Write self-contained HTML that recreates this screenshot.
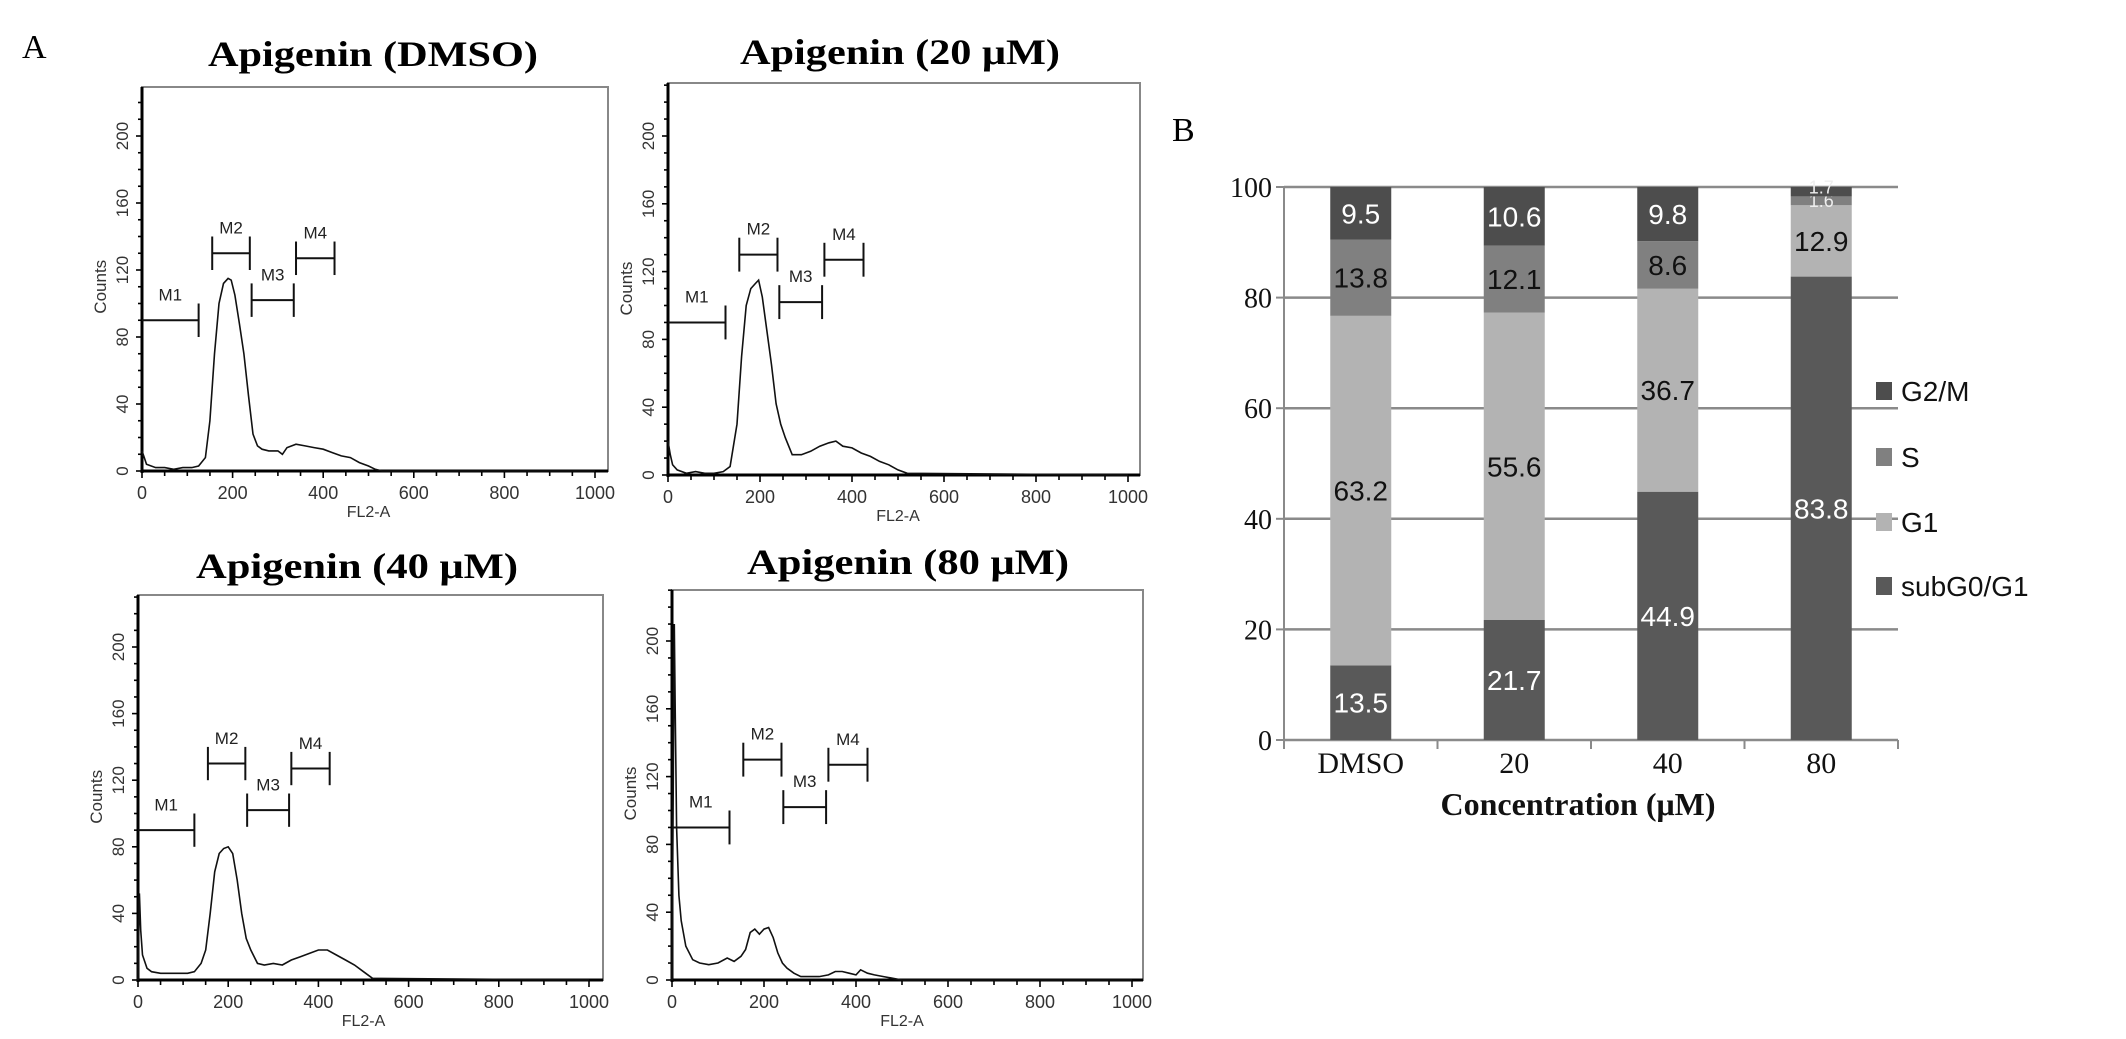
<!DOCTYPE html>
<html><head><meta charset="utf-8"><style>
html,body{margin:0;padding:0;background:#fff;}
svg{display:block;}
</style></head><body>
<svg id="fig" width="2126" height="1039" viewBox="0 0 2126 1039" xmlns="http://www.w3.org/2000/svg">
<rect width="2126" height="1039" fill="#fff"/>
<text x="22" y="58" font-family="Liberation Serif, serif" font-size="34">A</text>
<text x="1172" y="141" font-family="Liberation Serif, serif" font-size="34">B</text>
<g id="flow"></g>
<g id="bars"></g>
</svg>
<script>
// ---- Flow histogram data (FL2-A channel vs counts) ----
const dmsoX = [0,5,10,30,50,70,90,110,125,140,150,160,170,180,190,197,205,215,225,235,245,255,265,280,300,310,320,340,360,380,400,420,440,460,480,500,515,530,1000];
const dmsoY = [12,8,4,2,2,1,2,2,3,8,30,70,100,112,115,114,105,88,70,45,22,15,13,12,12,10,14,16,15,14,13,11,9,8,5,3,1,0,0];
const m20X = [0,5,10,20,40,60,80,100,120,135,150,160,170,180,190,197,205,215,225,235,245,255,270,290,310,330,350,365,380,400,420,440,460,480,500,520,1000];
const m20Y = [20,12,6,3,1,2,1,1,2,5,30,70,100,110,113,115,105,85,65,42,30,22,12,12,14,17,19,20,17,16,13,11,8,6,3,1,0];
const m40X = [0,3,6,10,20,30,50,70,90,110,125,140,150,160,170,180,190,200,210,220,230,240,250,265,280,300,320,340,360,380,400,420,440,460,480,500,520,1000];
const m40Y = [0,52,30,15,7,5,4,4,4,4,5,10,18,40,65,76,79,80,76,60,40,25,18,10,9,10,9,12,14,16,18,18,15,12,9,5,1,0];
const m80X = [0,5,7,10,15,20,30,45,60,80,100,120,135,150,160,170,180,190,200,210,220,230,240,250,265,280,300,320,340,355,370,385,400,410,425,440,460,480,500,1000];
const m80Y = [0,210,160,90,50,35,20,12,10,9,10,13,11,14,18,28,30,27,30,31,25,16,10,7,4,2,2,2,3,5,5,4,3,6,4,3,2,1,0,0];
const flowYTicks = [0,40,80,120,160,200];
const flowXTicks = [0,200,400,600,800,1000];
const gateNames = ["M1","M2","M3","M4"];
const gateStart = [0,155,242,340];
const gateEnd = [125,238,335,425];
const gateLevel = [90,130,102,127];

const NS = "http://www.w3.org/2000/svg";
function mk(tag, attrs, parent, text){
  const e = document.createElementNS(NS, tag);
  for (const k in attrs) e.setAttribute(k, attrs[k]);
  if (text !== undefined) e.textContent = text;
  parent.appendChild(e);
  return e;
}

const panels = [
  {key:"dmso", title:"Apigenin (DMSO)", tx:373, ty:66, tw:330, x0:142, x1:595, right:608, top:87, y0:471, y200:136, xs:dmsoX, ys:dmsoY},
  {key:"20um", title:"Apigenin (20 μM)", tx:900, ty:64, tw:320, x0:668, x1:1128, right:1140, top:83, y0:475, y200:136, xs:m20X, ys:m20Y},
  {key:"40um", title:"Apigenin (40 μM)", tx:357, ty:578, tw:322, x0:138, x1:589, right:603, top:595, y0:980, y200:647, xs:m40X, ys:m40Y},
  {key:"80um", title:"Apigenin (80 μM)", tx:908, ty:574, tw:322, x0:672, x1:1132, right:1143, top:590, y0:980, y200:641, xs:m80X, ys:m80Y}
];

const flow = document.getElementById("flow");
panels.forEach(p => {
  const g = mk("g", {}, flow);
  
  
  const sx = v => p.x0 + (p.x1 - p.x0) * v / 1000;
  const sy = v => p.y0 - (p.y0 - p.y200) * v / 200;
  const t = mk("text", {x:p.tx, y:p.ty, "text-anchor":"middle", "font-family":"Liberation Serif, serif", "font-weight":"bold", "font-size":"36", textLength:p.tw, lengthAdjust:"spacingAndGlyphs"}, g, p.title);
  
  
  const fr = mk("rect", {x:p.x0, y:p.top, width:p.right - p.x0, height:p.y0 - p.top, fill:"none", stroke:"#888", "stroke-width":"2"}, g);
  
  
  const ya = mk("line", {x1:p.x0, y1:p.top, x2:p.x0, y2:p.y0 + 2, stroke:"#000", "stroke-width":"3"}, g);
  
  
  const xa = mk("line", {x1:p.x0, y1:p.y0, x2:p.right, y2:p.y0, stroke:"#000", "stroke-width":"3"}, g);
  
  
  for (let v = 0; v <= 230; v += 10) {
    const yy = sy(v);
    if (yy < p.top) break;
    mk("line", {x1:p.x0 - (v % 40 === 0 ? 6 : 4), y1:yy, x2:p.x0, y2:yy, stroke:"#000", "stroke-width":"1.6"}, g);
  }
  for (let v = 0; v <= 1000; v += 50) {
    mk("line", {x1:sx(v), y1:p.y0, x2:sx(v), y2:p.y0 + (v % 200 === 0 ? 7 : 5), stroke:"#000", "stroke-width":"1.6"}, g);
  }
  flowYTicks.forEach(v => {
    const lx = p.x0 - 14, ly = sy(v);
    const tl = mk("text", {x:lx, y:ly, transform:`rotate(-90 ${lx} ${ly})`, "text-anchor":"middle", "font-family":"Liberation Sans, sans-serif", "font-size":"17", fill:"#333"}, g, String(v));
    
    
  });
  flowXTicks.forEach(v => {
    const tl = mk("text", {x:sx(v), y:p.y0 + 28, "text-anchor":"middle", "font-family":"Liberation Sans, sans-serif", "font-size":"18", fill:"#333"}, g, String(v));
    
    
  });
  const cx = p.x0 - 36, cy = sy(110);
  const cl = mk("text", {x:cx, y:cy, transform:`rotate(-90 ${cx} ${cy})`, "text-anchor":"middle", "font-family":"Liberation Sans, sans-serif", "font-size":"17", fill:"#333"}, g, "Counts");
  
  
  const xl = mk("text", {x:sx(500), y:p.y0 + 46, "text-anchor":"middle", "font-family":"Liberation Sans, sans-serif", "font-size":"16", fill:"#333"}, g, "FL2-A");
  
  
  const d = p.xs.map((v, i) => (i ? "L" : "M") + sx(v).toFixed(1) + " " + sy(p.ys[i]).toFixed(1)).join(" ");
  const ln = mk("path", {d:d, fill:"none", stroke:"#111", "stroke-width":"1.6"}, g);
  
  
  gateNames.forEach((n, i) => {
    const gg = mk("g", {}, g);
    
    
    const a = sx(gateStart[i]), b = sx(gateEnd[i]), yy = sy(gateLevel[i]);
    const h = (p.y0 - p.y200) * 10 / 200;
    mk("line", {x1:a, y1:yy, x2:b, y2:yy, stroke:"#111", "stroke-width":"2"}, gg);
    if (i > 0) mk("line", {x1:a, y1:yy - h, x2:a, y2:yy + h, stroke:"#111", "stroke-width":"2"}, gg);
    mk("line", {x1:b, y1:yy - h, x2:b, y2:yy + h, stroke:"#111", "stroke-width":"2"}, gg);
    mk("text", {x:(a + b) / 2, y:yy - h - 3, "text-anchor":"middle", "font-family":"Liberation Sans, sans-serif", "font-size":"17", fill:"#222"}, gg, n);
  });
});

// ---- Stacked bar chart data ----
const categories = ["DMSO","20","40","80"];
const subG0 = [13.5,21.7,44.9,83.8];
const g1 = [63.2,55.6,36.7,12.9];
const sPhase = [13.8,12.1,8.6,1.6];
const g2m = [9.5,10.6,9.8,1.7];
const yTicks = [0,20,40,60,80,100];
const seriesNames = ["subG0/G1","G1","S","G2/M"];

const B = {left:1284, right:1898, top:187, bottom:740, bw:61};
const by = v => B.bottom - (B.bottom - B.top) * v / 100;
const bx = i => B.left + (B.right - B.left) * (i + 0.5) / categories.length;
const bars = document.getElementById("bars");
const series = [subG0, g1, sPhase, g2m];
const colors = ["#595959","#b3b3b3","#808080","#4d4d4d"];
const labelColors = ["#fff","#111","#111","#fff"];

yTicks.forEach(v => {
  const gl = mk("line", {x1:B.left, y1:by(v), x2:B.right, y2:by(v), stroke:"#8a8a8a", "stroke-width":"2.5"}, bars);
  
  
  mk("line", {x1:B.left - 8, y1:by(v), x2:B.left, y2:by(v), stroke:"#8a8a8a", "stroke-width":"2"}, bars);
  const tl = mk("text", {x:B.left - 12, y:by(v) + 10, "text-anchor":"end", "font-family":"Liberation Serif, serif", "font-size":"28", fill:"#111"}, bars, String(v));
  
  
});
const yax = mk("line", {x1:B.left, y1:B.top, x2:B.left, y2:B.bottom, stroke:"#8a8a8a", "stroke-width":"2"}, bars);


for (let i = 0; i <= categories.length; i++) {
  const x = B.left + (B.right - B.left) * i / categories.length;
  mk("line", {x1:x, y1:B.bottom, x2:x, y2:B.bottom + 9, stroke:"#8a8a8a", "stroke-width":"2"}, bars);
}
categories.forEach((c, i) => {
  let base = 0;
  series.forEach((arr, k) => {
    const v = arr[i];
    const r = mk("rect", {x:bx(i) - B.bw / 2, y:by(base + v), width:B.bw, height:by(base) - by(base + v), fill:colors[k]}, bars);
    
    
    const small = v < 5;
    const lt = mk("text", {x:bx(i), y:by(base + v / 2) + (small ? (k === 3 ? 2 : 6) : 10), "text-anchor":"middle", "font-family":"Liberation Sans, sans-serif", "font-size":small ? "18" : "28", fill:small ? "#eee" : labelColors[k]}, bars, v.toFixed(1));
    
    
    base += v;
  });
  const xl = mk("text", {x:bx(i), y:773, "text-anchor":"middle", "font-family":"Liberation Serif, serif", "font-size":"30", fill:"#111"}, bars, c);
  
  
});
const xt = mk("text", {x:1578, y:815, "text-anchor":"middle", "font-family":"Liberation Serif, serif", "font-weight":"bold", "font-size":"32", fill:"#111"}, bars, "Concentration (μM)");



const legendY = [391,457,522,586];
[3,2,1,0].forEach((k, j) => {
  const lg = mk("g", {}, bars);
  
  
  mk("rect", {x:1876, y:legendY[j] - 9, width:16, height:18, fill:colors[k]}, lg);
  mk("text", {x:1901, y:legendY[j] + 10, "font-family":"Liberation Sans, sans-serif", "font-size":"28", fill:"#111"}, lg, seriesNames[k]);
});
</script>
</body></html>
